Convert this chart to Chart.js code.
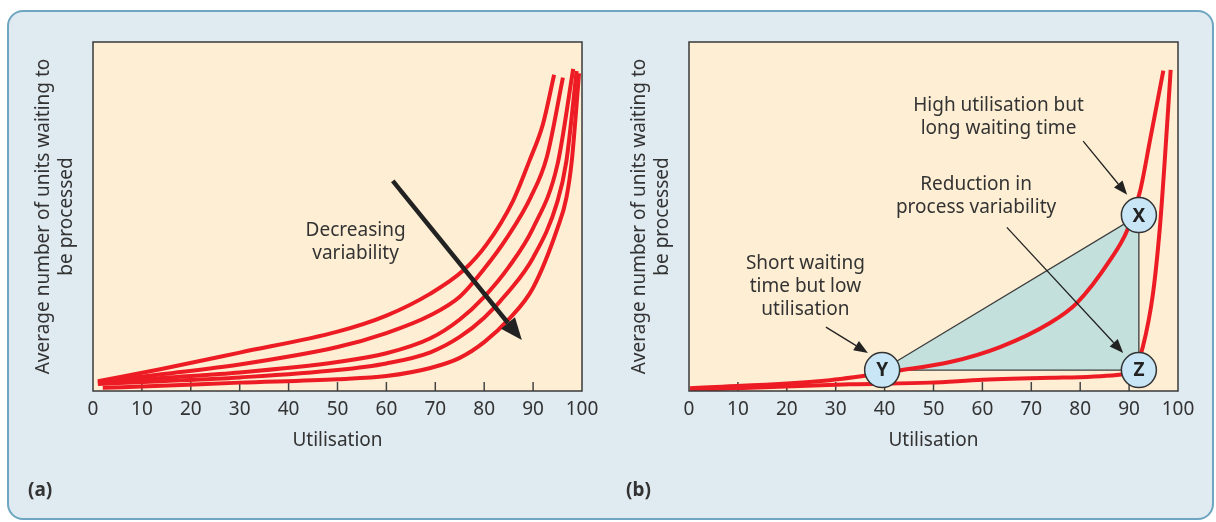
<!DOCTYPE html>
<html>
<head>
<meta charset="utf-8">
<script src="https://cdn.jsdelivr.net/npm/chart.js@4.4.0/dist/chart.umd.min.js"></script>
<style>
  html, body { margin: 0; padding: 0; background: #fff; }
  body { width: 1216px; height: 522px; position: relative; overflow: hidden; font-family: 'Noto Sans', sans-serif; }
  .frame { position: absolute; left: 7px; top: 10px; width: 1207px; height: 510px; box-sizing: border-box;
           background: #dfeaf1; border: 2px solid #6ea6c2; border-radius: 16px; }
  canvas { position: absolute; top: 0; }
  .tag { position: absolute; top: 476px; font-weight: bold; font-size: 19px; color: #333; }
</style>
</head>
<body>
<div class="frame"></div>
<canvas id="chartA" width="600" height="522" style="left:0"></canvas>
<canvas id="chartB" width="616" height="522" style="left:600px"></canvas>
<div class="tag" style="left:28px">(a)</div>
<div class="tag" style="left:626px">(b)</div>
<script>
const ticksX = [0, 10, 20, 30, 40, 50, 60, 70, 80, 90, 100];
const yTitle = ['Average number of units waiting to', 'be processed'];

// (a) five curves, most variable first: utilisation (%) and queue length
const a1_u = [1, 14, 30, 50, 60, 69, 75.7, 80.5, 85.9, 89.2, 92, 94.3];
const a1_q = [2.8, 6.3, 11.0, 17.0, 21.6, 27.9, 34.5, 42, 54.5, 65.8, 76.4, 90.6];
const a2_u = [1, 14, 30, 50, 60, 69, 75, 80, 84.7, 89.5, 92.8, 96.1];
const a2_q = [2.6, 4.8, 7.6, 12.6, 16.6, 21.7, 27, 35, 44, 55.5, 67, 89.8];
const a3_u = [1, 14, 30, 50, 60, 69, 75, 80, 85, 90, 95, 98.2];
const a3_q = [2.3, 3.7, 5.3, 8.3, 10.8, 15.1, 20.5, 27, 35.5, 46.7, 65, 92.3];
const a4_u = [1, 14, 30, 50, 60, 69, 75, 80, 85, 90, 95, 96.8, 98.9];
const a4_q = [2.0, 2.8, 3.9, 6.0, 7.9, 11.1, 15.5, 21, 28.5, 38.2, 54.4, 65.8, 91.7];
const a5_u = [2, 14, 30, 50, 60, 69, 75, 80, 85, 90, 95, 96.8, 97.9, 99.4];
const a5_q = [0.9, 1.5, 2.4, 3.4, 4.3, 6.6, 9.5, 14, 20.5, 29.6, 46.7, 55.3, 65.8, 91];

// (b) high-variability and low-variability curves
const b1_u = [0.2, 28.8, 43.1, 53.4, 63.6, 73.8, 79.3, 86.1, 89.6, 92.2, 94.3, 97.0];
const b1_q = [0.8, 3.1, 5.9, 8.3, 12.6, 19.5, 25.2, 37.5, 46, 57, 72, 91.8];
const b2_u = [0.2, 32.9, 49.3, 60.1, 75, 87.5, 91.2, 92.8, 94.9, 96.3, 97.3, 98.5];
const b2_q = [0.3, 1.9, 2.4, 3.2, 3.8, 4.6, 6.6, 12.6, 28.1, 47, 66.2, 92];

// operating points X, Y, Z
const pointNames = ['X', 'Y', 'Z'];
const pointU = [92, 39.5, 92];
const pointQ = [50.4, 6.0, 6.0];

const RED = '#ed1c24';
const INK = '#333';
const FONT = 'Noto Sans';

const zip = (u, q) => u.map((v, i) => ({ x: v, y: q[i] }));
const curve = (u, q) => ({
  data: zip(u, q), borderColor: RED, borderWidth: 4, pointRadius: 0,
  cubicInterpolationMode: 'monotone', fill: false, order: 1
});

function arrow(ctx, x0, y0, x1, y1, w, len, hw) {
  const a = Math.atan2(y1 - y0, x1 - x0);
  const bx = x1 - len * Math.cos(a), by = y1 - len * Math.sin(a);
  ctx.lineWidth = w;
  ctx.beginPath(); ctx.moveTo(x0, y0); ctx.lineTo(bx, by); ctx.stroke();
  ctx.beginPath(); ctx.moveTo(x1, y1);
  ctx.lineTo(bx + hw / 2 * Math.sin(a), by - hw / 2 * Math.cos(a));
  ctx.lineTo(bx - hw / 2 * Math.sin(a), by + hw / 2 * Math.cos(a));
  ctx.closePath(); ctx.fill();
}

// panel background, inner ticks, border, notes and arrows
function decor(notes, arrows, withLetters) {
  return {
    id: 'decor',
    beforeDraw(chart) {
      const { ctx, chartArea: a } = chart;
      ctx.save();
      ctx.fillStyle = '#feefd4';
      ctx.fillRect(a.left, a.top, a.width, a.height);
      ctx.restore();
    },
    beforeDatasetsDraw(chart) {
      const { ctx, chartArea: a, scales: { x } } = chart;
      ctx.save();
      ctx.strokeStyle = '#444';
      ctx.lineWidth = 1.5;
      ticksX.slice(1, -1).forEach(v => {
        const px = x.getPixelForValue(v);
        ctx.beginPath(); ctx.moveTo(px, a.bottom); ctx.lineTo(px, a.bottom - 9); ctx.stroke();
      });
      ctx.restore();
    },
    afterDatasetsDraw(chart) {
      const { ctx, scales: { x, y } } = chart;
      ctx.save();
      ctx.fillStyle = '#222';
      ctx.strokeStyle = '#222';
      arrows.forEach(r => arrow(ctx, x.getPixelForValue(r.from[0]), y.getPixelForValue(r.from[1]),
        x.getPixelForValue(r.to[0]), y.getPixelForValue(r.to[1]), r.w, r.len, r.hw));
      ctx.fillStyle = INK;
      ctx.font = '19px "' + FONT + '"';
      ctx.textAlign = 'center';
      ctx.textBaseline = 'alphabetic';
      notes.forEach(n => n.lines.forEach((t, i) =>
        ctx.fillText(t, x.getPixelForValue(n.at[0]), y.getPixelForValue(n.at[1]) + i * 23)));
      if (withLetters) {
        ctx.font = 'bold 19px "' + FONT + '"';
        ctx.textBaseline = 'middle';
        ctx.fillStyle = '#222';
        pointNames.forEach((p, i) =>
          ctx.fillText(p, x.getPixelForValue(pointU[i]), y.getPixelForValue(pointQ[i]) + 1));
      }
      ctx.restore();
    },
    afterDraw(chart) {
      const { ctx, chartArea: a } = chart;
      ctx.save();
      ctx.strokeStyle = '#3a3a3a';
      ctx.lineWidth = 1.5;
      ctx.strokeRect(a.left, a.top, a.width, a.height);
      ctx.restore();
    }
  };
}

function options(padLeft, padRight) {
  return {
    responsive: false,
    animation: false,
    layout: { padding: { left: padLeft, right: padRight, top: 42, bottom: 70.5 } },
    plugins: { legend: { display: false }, tooltip: { enabled: false } },
    scales: {
      x: {
        type: 'linear', min: 0, max: 100,
        grid: { display: false, drawTicks: false }, border: { display: false },
        afterBuildTicks: s => { s.ticks = ticksX.map(v => ({ value: v })); },
        ticks: { color: INK, font: { family: FONT, size: 19 }, padding: 7, maxRotation: 0, autoSkip: false },
        title: { display: true, text: 'Utilisation', color: INK, font: { family: FONT, size: 19 }, padding: 0 },
        afterFit: s => { s.height = 60.5; s.paddingLeft = 0; s.paddingRight = 0; }
      },
      y: {
        min: 0, max: 100,
        grid: { display: false, drawTicks: false }, border: { display: false },
        ticks: { display: false },
        title: { display: true, text: yTitle, color: INK, font: { family: FONT, size: 19, lineHeight: 1.21 }, padding: 0 },
        afterFit: s => { s.width = 61; }
      }
    }
  };
}

new Chart(document.getElementById('chartA'), {
  type: 'line',
  data: {
    datasets: [curve(a1_u, a1_q), curve(a2_u, a2_q), curve(a3_u, a3_q), curve(a4_u, a4_q), curve(a5_u, a5_q)]
  },
  options: options(32, 18),
  plugins: [decor(
    [{ lines: ['Decreasing', 'variability'], at: [53.7, 44.4] }],
    [{ from: [61.3, 60.2], to: [87.7, 14.6], w: 4.5, len: 22, hw: 18 }],
    false
  )]
});

const tri = [1, 0, 2, 1].map(i => ({ x: pointU[i], y: pointQ[i] }));

new Chart(document.getElementById('chartB'), {
  type: 'line',
  data: {
    datasets: [
      {
        data: pointU.map((u, i) => ({ x: u, y: pointQ[i] })), showLine: false,
        pointRadius: 17.5, pointBackgroundColor: '#c8e6f6', pointBorderColor: '#333', pointBorderWidth: 1.5,
        order: 0
      },
      curve(b1_u, b1_q),
      curve(b2_u, b2_q),
      {
        data: tri, tension: 0, pointRadius: 0, borderColor: '#3d3d3d', borderWidth: 1.3,
        backgroundColor: '#c3e0dd', fill: 'shape', order: 2
      }
    ]
  },
  options: options(28, 38),
  plugins: [decor(
    [
      { lines: ['High utilisation but', 'long waiting time'], at: [63.3, 80.2] },
      { lines: ['Reduction in', 'process variability'], at: [58.7, 57.6] },
      { lines: ['Short waiting', 'time but low', 'utilisation'], at: [23.8, 35.0] }
    ],
    [
      { from: [28.0, 18.3], to: [36.6, 10.9], w: 1.3, len: 14, hw: 11 },
      { from: [80.6, 71.6], to: [89.6, 56.2], w: 1.3, len: 14, hw: 11 },
      { from: [65.0, 46.9], to: [88.8, 10.9], w: 1.3, len: 14, hw: 11 }
    ],
    true
  )]
});
</script>
</body>
</html>
